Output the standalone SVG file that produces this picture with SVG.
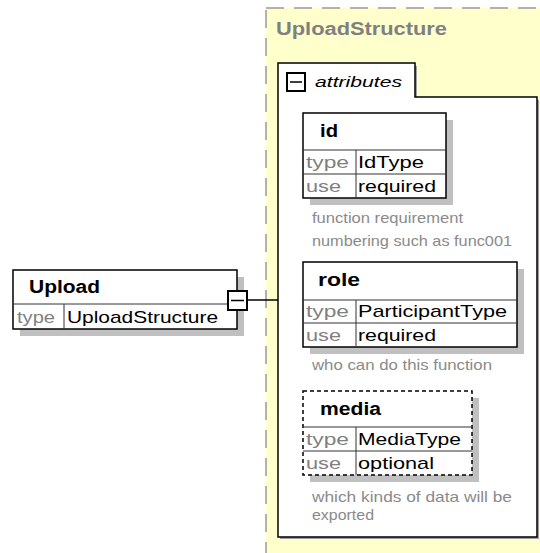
<svg xmlns="http://www.w3.org/2000/svg" width="540" height="553" viewBox="0 0 540 553">
<style>
text{font-family:"Liberation Sans",Arial,sans-serif}
.nm{font-weight:bold;font-size:18px;fill:#000}
.lb{font-size:17px;fill:#808080}
.vl{font-size:17px;fill:#000}
.an{font-size:15px;fill:#8a8a8a}
.box{fill:#fff;stroke:#000;stroke-width:1.5}
.sh{fill:#c0c0c0}
.sep{stroke:#333;stroke-width:1}
.dbox{fill:#fff;stroke:#000;stroke-width:1.5;stroke-dasharray:4 3}
.dsep{stroke:#333;stroke-width:1;stroke-dasharray:3 2}
.mb{fill:#fff;stroke:#000;stroke-width:2}
</style>
<g id="UploadStructure">
<rect x="266" y="8" width="290" height="560" fill="#ffffcc" stroke="#999" stroke-width="1.5" stroke-dasharray="18 10"/>
<text x="276" y="35" font-weight="bold" font-size="18" fill="#808080" textLength="171" lengthAdjust="spacingAndGlyphs">UploadStructure</text>
</g>
<g id="attributes">
<path d="M280,66 H417 V100 H539 V539 H280 Z" fill="#a0a0a0"/>
<path d="M278,537 V63 H415 V97 H537 V537 Z" fill="#fff" stroke="#000" stroke-width="1.5"/>
<rect x="287" y="73" width="18" height="18" class="mb"/>
<line x1="290" y1="82" x2="302" y2="82" stroke="#000" stroke-width="1.5"/>
<text x="315" y="87" font-style="italic" font-size="15" fill="#000" textLength="87" lengthAdjust="spacingAndGlyphs">attributes</text>
</g>
<g id="connectors">
<line x1="248" y1="300" x2="278" y2="300" stroke="#000" stroke-width="1.5"/>
</g>
<g id="Upload">
<rect x="20" y="277" width="224" height="59" class="sh"/>
<rect x="13" y="270" width="224" height="59" class="box"/>
<line x1="13" y1="304" x2="237" y2="304" class="sep"/>
<line x1="64" y1="304" x2="64" y2="329" class="sep"/>
<text x="29" y="293" class="nm" textLength="71" lengthAdjust="spacingAndGlyphs">Upload</text>
<text x="17" y="323" class="lb" textLength="38" lengthAdjust="spacingAndGlyphs">type</text>
<text x="67" y="323" class="vl" textLength="151" lengthAdjust="spacingAndGlyphs">UploadStructure</text>
<rect x="228" y="291" width="19" height="19" class="mb"/>
<line x1="231" y1="300.5" x2="244" y2="300.5" stroke="#000" stroke-width="1.5"/>
</g>
<g id="id">
<rect x="310" y="120" width="143" height="85" class="sh"/>
<rect x="303" y="113" width="143" height="85" class="box"/>
<line x1="303" y1="150" x2="446" y2="150" class="sep"/>
<line x1="303" y1="174" x2="446" y2="174" class="sep"/>
<line x1="356" y1="150" x2="356" y2="198" class="sep"/>
<text x="320" y="137" class="nm" textLength="18" lengthAdjust="spacingAndGlyphs">id</text>
<text x="306" y="168" class="lb" textLength="43" lengthAdjust="spacingAndGlyphs">type</text>
<text x="358" y="168" class="vl" textLength="66" lengthAdjust="spacingAndGlyphs">IdType</text>
<text x="306" y="192" class="lb" textLength="35" lengthAdjust="spacingAndGlyphs">use</text>
<text x="358" y="192" class="vl" textLength="78" lengthAdjust="spacingAndGlyphs">required</text>
<text x="312" y="223" class="an" textLength="151" lengthAdjust="spacingAndGlyphs">function requirement</text>
<text x="312" y="246" class="an" textLength="200" lengthAdjust="spacingAndGlyphs">numbering such as func001</text>
</g>
<g id="role">
<rect x="310" y="269" width="214" height="85" class="sh"/>
<rect x="303" y="262" width="214" height="85" class="box"/>
<line x1="303" y1="300" x2="517" y2="300" class="sep"/>
<line x1="303" y1="323" x2="517" y2="323" class="sep"/>
<line x1="356" y1="300" x2="356" y2="347" class="sep"/>
<text x="318" y="286" class="nm" textLength="42" lengthAdjust="spacingAndGlyphs">role</text>
<text x="306" y="317" class="lb" textLength="43" lengthAdjust="spacingAndGlyphs">type</text>
<text x="358" y="317" class="vl" textLength="149" lengthAdjust="spacingAndGlyphs">ParticipantType</text>
<text x="306" y="341" class="lb" textLength="35" lengthAdjust="spacingAndGlyphs">use</text>
<text x="358" y="341" class="vl" textLength="78" lengthAdjust="spacingAndGlyphs">required</text>
<text x="312" y="370" class="an" textLength="180" lengthAdjust="spacingAndGlyphs">who can do this function</text>
</g>
<g id="media">
<rect x="310" y="398" width="169" height="84" class="sh"/>
<rect x="303" y="391" width="169" height="84" class="dbox"/>
<line x1="303" y1="427" x2="472" y2="427" class="sep"/>
<line x1="303" y1="451" x2="472" y2="451" class="sep"/>
<line x1="356" y1="427" x2="356" y2="475" class="sep"/>
<text x="320" y="415" class="nm" textLength="61" lengthAdjust="spacingAndGlyphs">media</text>
<text x="306" y="445" class="lb" textLength="43" lengthAdjust="spacingAndGlyphs">type</text>
<text x="358" y="445" class="vl" textLength="103" lengthAdjust="spacingAndGlyphs">MediaType</text>
<text x="306" y="469" class="lb" textLength="35" lengthAdjust="spacingAndGlyphs">use</text>
<text x="358" y="469" class="vl" textLength="76" lengthAdjust="spacingAndGlyphs">optional</text>
<text x="312" y="502" class="an" textLength="200" lengthAdjust="spacingAndGlyphs">which kinds of data will be</text>
<text x="312" y="520" class="an" textLength="62" lengthAdjust="spacingAndGlyphs">exported</text>
</g>
</svg>
